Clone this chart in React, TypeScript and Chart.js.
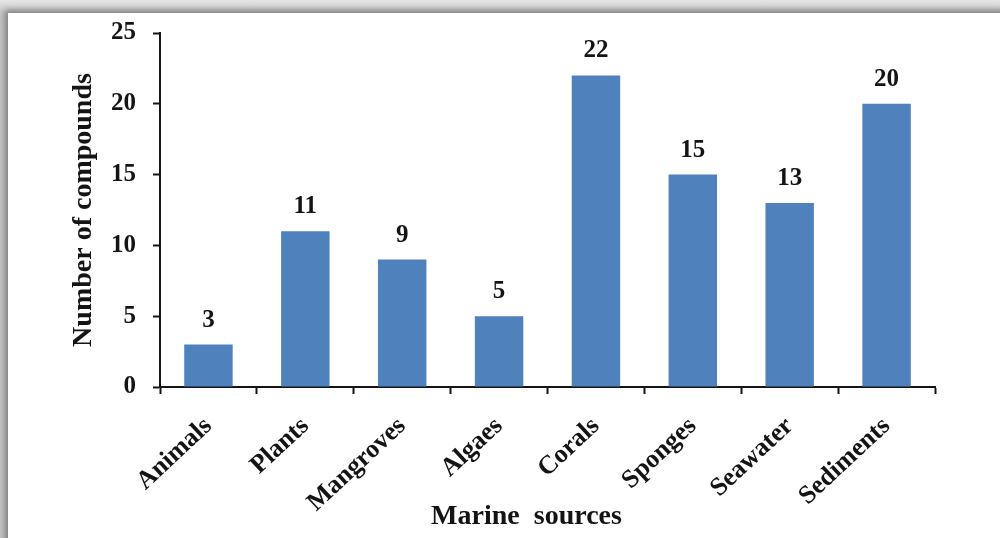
import React, { useEffect, useRef } from "react";
import { Chart, registerables } from "chart.js";

Chart.register(...registerables);

const categories = ["Animals", "Plants", "Mangroves", "Algaes", "Corals", "Sponges", "Seawater", "Sediments"];
const compounds = [3, 11, 9, 5, 22, 15, 13, 20];
const yTickValues = [0, 5, 10, 15, 20, 25];
const xTitle = "Marine  sources\u00a0\u00a0\u00a0\u00a0\u00a0\u00a0";
const yTitle = "Number of compounds";

const FONT = '"Liberation Serif", "Times New Roman", serif';
const INK = "#141414";
const BAR = "#4F81BD";

const valueLabels = {
  id: "valueLabels",
  afterDatasetsDraw(chart: any) {
    const { ctx } = chart;
    const meta = chart.getDatasetMeta(0);
    ctx.save();
    ctx.font = `bold 25px ${FONT}`;
    ctx.fillStyle = INK;
    ctx.textAlign = "center";
    ctx.textBaseline = "alphabetic";
    meta.data.forEach((bar: any, i: number) => {
      ctx.fillText(String(compounds[i]), bar.x, bar.y - 18);
    });
    ctx.restore();
  },
};

export default function App() {
  const ref = useRef<HTMLCanvasElement | null>(null);

  useEffect(() => {
    if (!ref.current) return;
    const chart = new Chart(ref.current, {
      type: "bar",
      data: {
        labels: categories,
        datasets: [
          {
            label: yTitle,
            data: compounds,
            backgroundColor: BAR,
            borderWidth: 0,
            barPercentage: 0.5,
            categoryPercentage: 1.0,
          },
        ],
      },
      options: {
        responsive: false,
        animation: false,
        devicePixelRatio: 1,
        layout: { padding: { top: 33, right: 65, left: 0, bottom: 0 } },
        plugins: {
          legend: { display: false },
          tooltip: { enabled: false },
        },
        scales: {
          x: {
            grid: {
              offset: true,
              drawOnChartArea: false,
              drawTicks: true,
              tickLength: 7,
              tickColor: INK,
              tickWidth: 2,
            },
            border: { display: true, color: INK, width: 2 },
            ticks: {
              font: { family: FONT, size: 26, weight: "bold" },
              color: INK,
              minRotation: 43,
              maxRotation: 43,
              padding: 17,
              autoSkip: false,
            },
            title: {
              display: true,
              text: xTitle,
              font: { family: FONT, size: 28, weight: "bold" },
              color: INK,
              padding: { top: 0, bottom: 4 },
            },
            afterFit: (s: any) => {
              s.height = 151;
            },
          },
          y: {
            min: 0,
            max: 25,
            afterBuildTicks: (s: any) => {
              s.ticks = yTickValues.map((v) => ({ value: v }));
            },
            grid: {
              drawOnChartArea: false,
              drawTicks: true,
              tickLength: 7,
              tickColor: INK,
              tickWidth: 2,
            },
            border: { display: true, color: INK, width: 2 },
            ticks: {
              font: { family: FONT, size: 25, weight: "bold" },
              color: INK,
              padding: 17,
            },
            title: {
              display: true,
              text: yTitle,
              font: { family: FONT, size: 28, weight: "bold" },
              color: INK,
              padding: { top: 67, bottom: 0 },
            },
            afterFit: (s: any) => {
              s.width = 160;
            },
          },
        },
      },
      plugins: [valueLabels],
    });
    return () => chart.destroy();
  }, []);

  return (
    <div
      style={{
        position: "fixed",
        left: 0,
        top: 0,
        width: 1000,
        height: 538,
        overflow: "hidden",
        background: "linear-gradient(180deg, #e6e6e6 0px, #c4c4c4 13px)",
      }}
    >
      <div
        style={{
          position: "absolute",
          left: 8,
          top: 13,
          width: 1000,
          height: 540,
          background: "#ffffff",
          boxShadow: "-3px -3px 6px rgba(0,0,0,0.35)",
        }}
      />
      <canvas
        ref={ref}
        width={1000}
        height={538}
        style={{ position: "absolute", left: 0, top: 0, width: 1000, height: 538 }}
      />
    </div>
  );
}
